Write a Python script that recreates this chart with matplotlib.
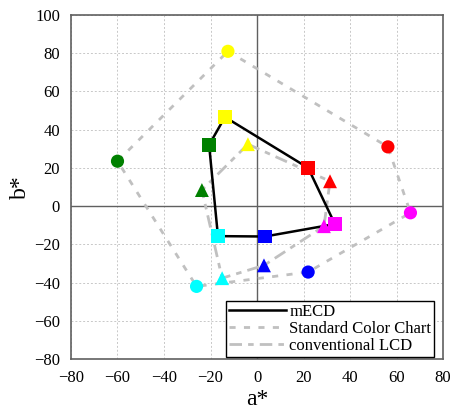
import numpy as np
import matplotlib.pyplot as plt

# colour order: yellow, red, magenta, blue, cyan, green
colors = ['#FFFF00', '#FF0000', '#FF00FF', '#0000FF', '#00FFFF', '#008000']

# Standard Color Chart (circles)
std_a = [-12.5, 56.3, 66.0, 22.0, -26.0, -60.0]
std_b = [81.0, 31.0, -3.5, -34.5, -42.0, 23.5]

# mECD (squares)
ecd_a = [-13.8, 22.0, 33.5, 3.4, -16.8, -20.6]
ecd_b = [46.6, 20.0, -9.4, -15.9, -15.7, 32.0]

# conventional LCD (triangles)
lcd_a = [-3.9, 31.4, 28.8, 3.0, -15.0, -23.7]
lcd_b = [32.4, 13.0, -10.5, -31.0, -37.7, 8.4]

plt.rcParams['font.family'] = ['Liberation Serif', 'DejaVu Serif']

fig = plt.figure(figsize=(4.56, 4.2), dpi=100)
ax = fig.add_axes([0.1557, 0.1452, 0.8158, 0.8191])

def closed(v):
    return list(v) + [v[0]]

ax.plot(closed(std_a), closed(std_b), color='#c0c0c0', lw=2.0,
        dashes=(2.2, 3.0), label='Standard Color Chart', zorder=2)
ax.plot(closed(lcd_a), closed(lcd_b), color='#c0c0c0', lw=2.0,
        dashes=(4.5, 2.2, 2.0, 2.2), label='conventional LCD', zorder=2)
ax.plot(closed(ecd_a), closed(ecd_b), color='black', lw=1.8,
        label='mECD', zorder=3)

ax.scatter(std_a, std_b, c=colors, marker='o', s=90, zorder=4, linewidths=0)
ax.scatter(lcd_a, lcd_b, c=colors, marker='^', s=100, zorder=4, linewidths=0)
ax.scatter(ecd_a, ecd_b, c=colors, marker='s', s=100, zorder=5, linewidths=0)

ax.axhline(0, color='#606060', lw=1.0, zorder=1)
ax.axvline(0, color='#606060', lw=1.0, zorder=1)

ax.set_xlim(-80, 80)
ax.set_ylim(-80, 100)
ax.set_xticks(np.arange(-80, 81, 20))
ax.set_yticks(np.arange(-80, 101, 20))
ax.grid(True, color='#c8c8c8', linestyle=(0, (2, 2)), lw=0.7, zorder=0)
ax.set_axisbelow(True)
ax.tick_params(length=0, labelsize=12, pad=8)
for s in ax.spines.values():
    s.set_color('#606060')
    s.set_linewidth(1.2)

ax.set_xlabel('a*', fontsize=17, labelpad=2)
ax.set_ylabel('b*', fontsize=17, labelpad=2)

handles, labels = ax.get_legend_handles_labels()
order = [2, 0, 1]
leg = ax.legend([handles[i] for i in order], [labels[i] for i in order],
                loc='lower right', bbox_to_anchor=(0.977, 0.005),
                fontsize=12, frameon=True, fancybox=False,
                edgecolor='black', framealpha=1, borderpad=0.2,
                labelspacing=0.05, handlelength=3.4, handletextpad=0.2,
                borderaxespad=0.0)
leg.get_frame().set_linewidth(1.0)

fig.savefig('out.png', dpi=100)
